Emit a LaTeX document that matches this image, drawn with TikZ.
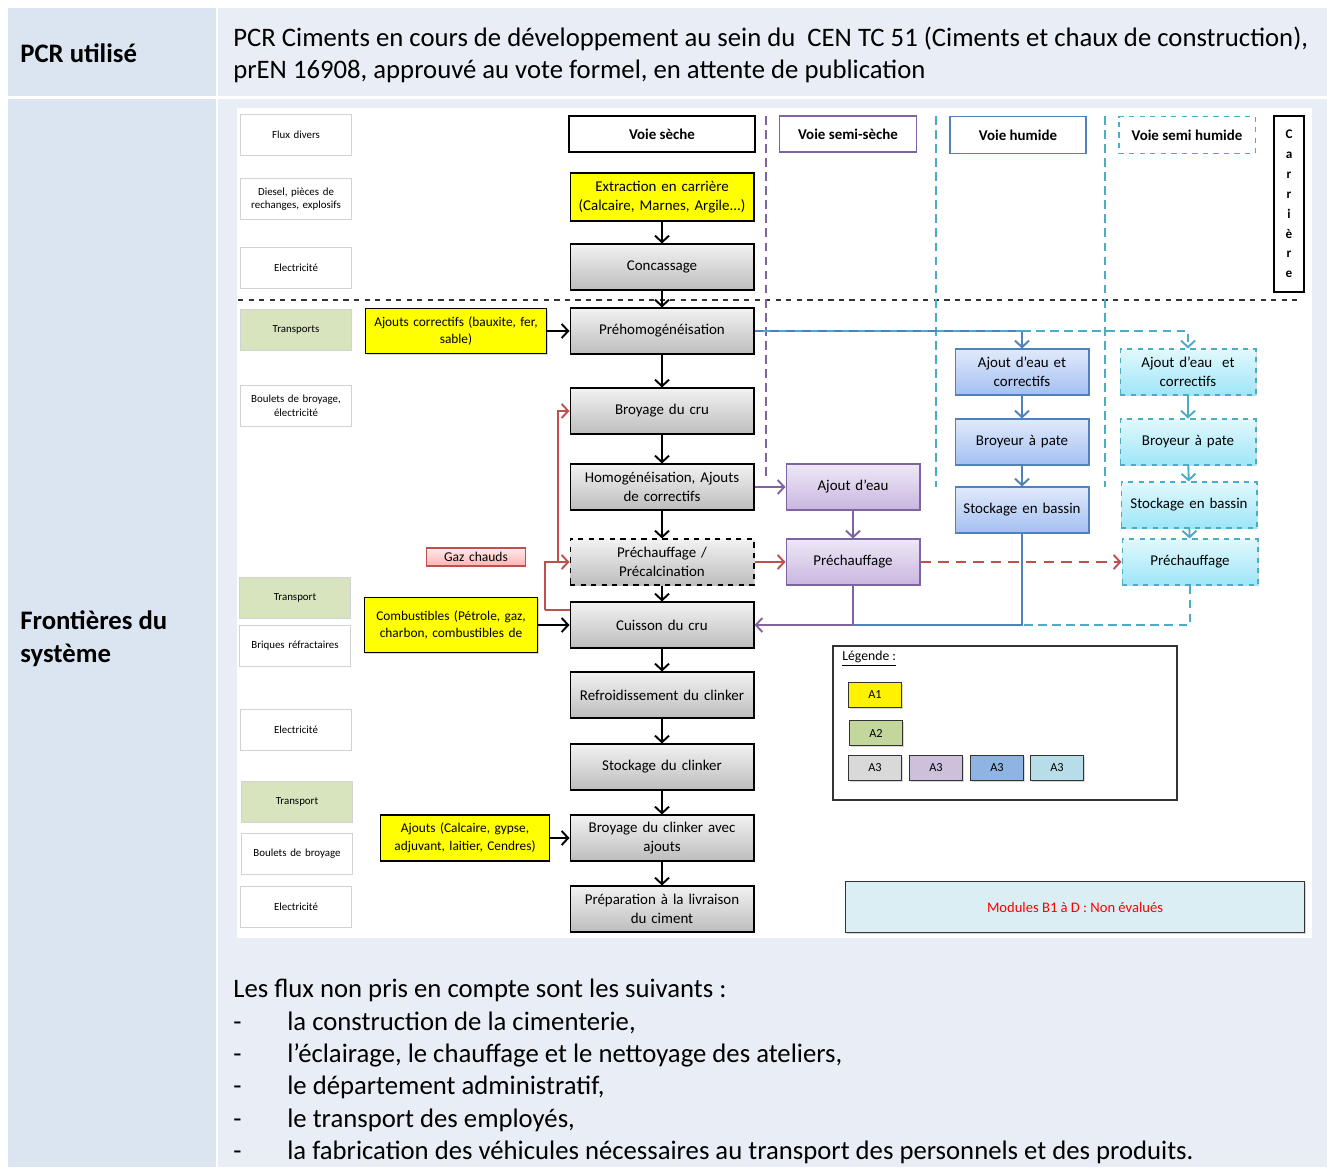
\documentclass[tikz,border=0pt]{standalone}
\usepackage{fontspec}
\setmainfont{Carlito}
\usepackage{xcolor}
\usepackage{tikz}
\usetikzlibrary{positioning, arrows.meta, shapes, shadows}

\definecolor{celluleG}{HTML}{DBE5F1}
\definecolor{celluleD}{HTML}{E9EEF6}
\definecolor{voieviolet}{HTML}{8064A2}
\definecolor{voiebleu}{HTML}{4F81BD}
\definecolor{voiecyan}{HTML}{4BACC6}
\definecolor{gazrouge}{HTML}{C0504D}
\definecolor{vertT}{HTML}{D7E4BD}

\tikzset{
  ombre/.style={drop shadow={shadow xshift=0.6pt, shadow yshift=-0.8pt, opacity=0.3}},
  etape/.style={draw=black, line width=0.6pt, top color={rgb,255:red,242;green,242;blue,242},
    bottom color={rgb,255:red,189;green,189;blue,189},
    minimum width=3.68cm, minimum height=0.92cm, text width=3.6cm, align=center,
    font=\fontsize{8.5}{10.6}\selectfont, inner sep=1pt, ombre},
  intrant/.style={etape, fill=yellow, top color=yellow, bottom color=yellow},
  ajout/.style={intrant, font=\fontsize{7.6}{10}\selectfont},
  flux/.style={draw=gray!35, line width=0.8pt, fill=white, minimum width=2.2cm,
    minimum height=0.82cm, text width=2.15cm, align=center, inner sep=1pt,
    font=\fontsize{6.2}{7.8}\selectfont},
  fluxT/.style={flux, fill=vertT},
  semisec/.style={etape, draw=voieviolet, top color={rgb,255:red,238;green,232;blue,246},
    bottom color={rgb,255:red,201;green,182;blue,224}, minimum width=2.68cm, text width=2.6cm},
  humide/.style={etape, draw=voiebleu, top color={rgb,255:red,225;green,234;blue,251},
    bottom color={rgb,255:red,163;green,191;blue,242}, minimum width=2.68cm, text width=2.6cm},
  semihum/.style={etape, draw=voiecyan, dashed, top color={rgb,255:red,226;green,248;blue,253},
    bottom color={rgb,255:red,158;green,230;blue,248}, minimum width=2.72cm, text width=2.6cm},
  titre/.style={draw, line width=1.3pt, fill=white, minimum height=0.72cm,
    font=\fontsize{8.5}{10}\selectfont\bfseries},
  legendebox/.style={draw=black!80, line width=0.8pt, minimum width=1.06cm, minimum height=0.5cm,
    font=\fontsize{7}{8}\selectfont, inner sep=0pt, ombre},
  fleche/.style={-{Straight Barb[length=1.3mm,width=2.8mm]}, line width=1.1pt},
  texte/.style={font=\fontsize{15.2}{18.4}\selectfont, inner sep=0pt, align=left},
}

\begin{document}
\begin{tikzpicture}[x=0.02cm, y=-0.02cm]
    \useasboundingbox (0,0) rectangle (1327,1167);
    % Tableau
    \fill[white] (0,0) rectangle (1327,1167);
    \fill[celluleG] (8,8) rectangle (216,96);
    \fill[celluleD] (218,8) rectangle (1327,96);
    \fill[celluleG] (8,99) rectangle (216,1167);
    \fill[celluleD] (218,99) rectangle (1327,1167);
    \fill[white] (237,108) rectangle (1312,938);

    \node[texte, anchor=west, font=\fontsize{15.2}{18.4}\selectfont\bfseries] (pcr) at (20,53) {PCR utilisé};
    \node[texte, anchor=north west, font=\fontsize{15.2}{18.1}\selectfont] (pcrtxt) at (233,27) {PCR Ciments en cours de développement au sein du \ CEN TC 51 (Ciments et chaux de construction),\\
      prEN 16908, approuvé au vote formel, en attente de publication};
    \node[texte, anchor=west, font=\fontsize{15.2}{18.6}\selectfont\bfseries] (front) at (20,639) {Frontières du\\système};

    % Separations des voies
    \draw[black!80, dashed, line width=0.6pt] (238,300) -- (1300,300);
    \draw[voieviolet, line width=1.2pt, dash pattern=on 5pt off 3pt] (766,116) -- (766,480);
    \draw[voiecyan, line width=1.2pt, dash pattern=on 5pt off 3pt] (936,116) -- (936,487);
    \draw[voiecyan, line width=1.2pt, dash pattern=on 5pt off 3pt] (1105,116) -- (1105,487);

    % Flux entrants (colonne de gauche)
    \node[flux] (f1) at (296,135) {Flux divers};
    \node[flux] (f2) at (296,199) {Diesel, pièces de\\rechanges, explosifs};
    \node[flux] (f3) at (296,268) {Electricité};
    \node[fluxT] (f4) at (296,330) {Transports};
    \node[flux] (f5) at (296,406) {Boulets de broyage,\\électricité};
    \node[fluxT] (f6) at (295,598) {Transport};
    \node[flux] (f7) at (295,646) {Briques réfractaires};
    \node[flux] (f8) at (296,730) {Electricité};
    \node[fluxT] (f9) at (297,802) {Transport};
    \node[flux] (f10) at (297,854) {Boulets de broyage};
    \node[flux] (f11) at (296,907) {Electricité};

    % Voie seche
    \node[titre, minimum width=3.72cm] (vsec) at (662,134) {Voie sèche};
    \node[intrant, minimum height=0.96cm] (extr) at (662,197) {Extraction en carrière\\(Calcaire, Marnes, Argile...)};
    \node[etape] (conc) at (662,267) {Concassage};
    \node[etape] (preh) at (662,331) {Préhomogénéisation};
    \node[etape] (broy) at (662,411) {Broyage du cru};
    \node[etape] (homo) at (662,487) {Homogénéisation, Ajouts\\de correctifs};
    \node[etape, dashed] (prec) at (662,562) {Préchauffage /\\Précalcination};
    \node[etape] (cuis) at (662,625) {Cuisson du cru};
    \node[etape] (refr) at (662,695) {Refroidissement du clinker};
    \node[etape] (stoc) at (662,767) {Stockage du clinker};
    \node[etape] (brcl) at (662,838) {Broyage du clinker avec\\ajouts};
    \node[etape] (prep) at (662,909) {Préparation à la livraison\\du ciment};

    % Ajouts
    \node[ajout, minimum width=3.62cm, text width=3.55cm, minimum height=0.9cm] (ajc) at (456,331) {Ajouts correctifs (bauxite, fer,\\sable)};
    \node[ajout, minimum width=3.44cm, text width=3.4cm, minimum height=1.1cm] (comb) at (451,625) {Combustibles (Pétrole, gaz,\\charbon, combustibles de};
    \node[ajout, minimum width=3.34cm, text width=3.3cm] (ajo) at (465,838) {Ajouts (Calcaire, gypse,\\adjuvant, laitier, Cendres)};
    \node[etape, draw=gazrouge, top color=red!8, bottom color=red!30, minimum width=1.94cm,
      text width=1.9cm, minimum height=0.36cm, font=\fontsize{7.7}{9}\selectfont] (gaz) at (476,557) {Gaz chauds};

    % Voie semi-seche
    \node[titre, draw=voieviolet, line width=1.1pt, minimum width=2.74cm] (vsemi) at (848,134) {Voie semi-sèche};
    \node[semisec] (eau) at (853,487) {Ajout d'eau};
    \node[semisec] (pchS) at (853,562) {Préchauffage};

    % Voie humide
    \node[titre, draw=voiebleu, line width=1.1pt, minimum width=2.72cm, minimum height=0.74cm] (vhum) at (1018,135) {Voie humide};
    \node[humide] (eauH) at (1022,372) {Ajout d'eau et\\correctifs};
    \node[humide] (broyH) at (1022,442) {Broyeur à pate};
    \node[humide] (stocH) at (1022,510) {Stockage en bassin};

    % Voie semi humide
    \node[titre, draw=voiecyan, dashed, line width=1.1pt, minimum width=2.74cm, minimum height=0.74cm] (vshum) at (1187,135) {Voie semi humide};
    \node[semihum] (eauSH) at (1188,372) {Ajout d'eau \ et\\correctifs};
    \node[semihum] (broySH) at (1188,442) {Broyeur à pate};
    \node[semihum] (stocSH) at (1189,505) {Stockage en bassin};
    \node[semihum] (pchSH) at (1190,562) {Préchauffage};

    \node[draw, line width=1.5pt, minimum width=0.6cm, minimum height=3.52cm, inner sep=0pt, align=center,
      font=\fontsize{7.5}{11.3}\selectfont\bfseries] (carr) at (1289,204) {C\\a\\r\\r\\i\\è\\r\\e};

    % Fleches voie seche
    \draw[fleche] (extr) -- (conc);
    \draw[fleche] (conc) -- (preh);
    \draw[fleche] (preh) -- (broy);
    \draw[fleche] (broy) -- (homo);
    \draw[fleche] (homo) -- (prec);
    \draw[fleche] (prec) -- (cuis);
    \draw[fleche] (cuis) -- (refr);
    \draw[fleche] (refr) -- (stoc);
    \draw[fleche] (stoc) -- (brcl);
    \draw[fleche] (brcl) -- (prep);
    \draw[fleche] (ajc) -- (preh);
    \draw[fleche] (comb) -- (cuis);
    \draw[fleche] (ajo) -- (brcl);

    % Gaz chauds
    \coordinate (rk1) at (545,610);
    \coordinate (rk2) at (558,563);
    \draw[gazrouge, line width=1.1pt] (rk1 -| cuis.west) -- (rk1);
    \draw[fleche, gazrouge] (rk1) |- (prec.west);
    \draw[fleche, gazrouge] (rk2) |- (broy.west);
    \draw[fleche, gazrouge] (prec) -- (pchS);
    \draw[fleche, gazrouge, dash pattern=on 6pt off 4pt] (pchS) -- (pchSH);

    % Voie semi-seche
    \draw[fleche, voieviolet] (homo) -- (eau);
    \draw[fleche, voieviolet] (eau) -- (pchS);
    \draw[fleche, voieviolet] (pchS.south) |- (cuis.east);

    % Voies humides
    \coordinate (coudeH) at (preh.east -| eauH.north);
    \draw[voiecyan, line width=1.1pt] (preh.east) -- (coudeH);
    \draw[voiebleu, line width=1.1pt, dash pattern=on 5pt off 4pt] (preh.east) -- (coudeH);
    \draw[fleche, voiebleu] (coudeH) -- (eauH.north);
    \draw[fleche, voiecyan, dash pattern=on 5pt off 3pt] (coudeH) -| (eauSH.north);
    \draw[fleche, voiebleu] (eauH) -- (broyH);
    \draw[fleche, voiebleu] (broyH) -- (stocH);
    \draw[voiebleu, line width=1.1pt] (stocH.south) |- (pchS.south |- cuis.east);
    \draw[fleche, voiecyan] (eauSH) -- (broySH);
    \draw[fleche, voiecyan] (broySH) -- (stocSH);
    \draw[fleche, voiecyan] (stocSH) -- (pchSH);
    \draw[voiecyan, line width=1.1pt, dash pattern=on 5pt off 3pt] (pchSH.south) |- (stocH.south |- cuis.east);

    % Legende
    \node[draw=black!80, line width=0.8pt, minimum width=6.88cm, minimum height=3.08cm, ombre, fill=white] (leg) at (1005,723) {};
    \node[anchor=west, inner sep=0pt, font=\fontsize{7.8}{9}\selectfont] (legtxt) at (842,659) {\underline{Légende :}};
    \node[legendebox, fill=yellow] (a1) at (875,695) {A1};
    \node[legendebox, fill={rgb,255:red,195;green,214;blue,155}] (a2) at (876,733) {A2};
    \node[legendebox, fill=gray!30] (a3g) at (875,768) {A3};
    \node[legendebox, fill={rgb,255:red,204;green,192;blue,218}] (a3v) at (936,768) {A3};
    \node[legendebox, fill={rgb,255:red,142;green,180;blue,227}] (a3b) at (997,768) {A3};
    \node[legendebox, fill={rgb,255:red,183;green,222;blue,232}] (a3c) at (1057,768) {A3};

    \node[draw=black!80, line width=0.8pt, fill={rgb,255:red,219;green,238;blue,243}, minimum width=9.18cm,
      minimum height=1.02cm, ombre, text=red, font=\fontsize{8.3}{10}\selectfont] (mod) at (1075,907) {Modules B1 à D : Non évalués};

    % Flux non pris en compte
    \node[texte, anchor=north west] (nonpris) at (233,979) {Les flux non pris en compte sont les suivants :\\
      \makebox[1.08cm][l]{-}la construction de la cimenterie,\\
      \makebox[1.08cm][l]{-}l’éclairage, le chauffage et le nettoyage des ateliers,\\
      \makebox[1.08cm][l]{-}le département administratif,\\
      \makebox[1.08cm][l]{-}le transport des employés,\\
      \makebox[1.08cm][l]{-}la fabrication des véhicules nécessaires au transport des personnels et des produits.};
\end{tikzpicture}
\end{document}
